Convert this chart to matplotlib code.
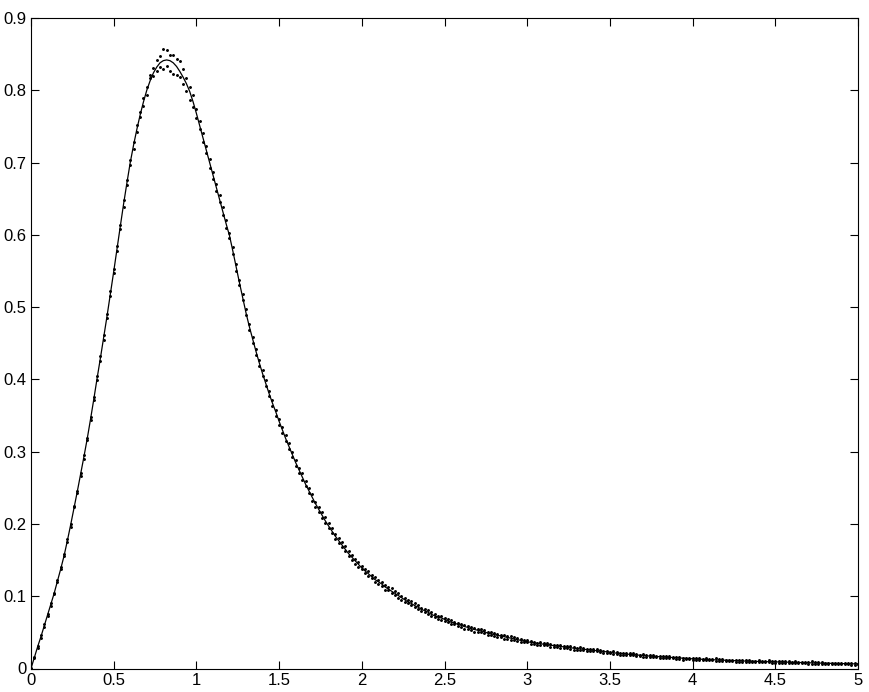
import numpy as np
import matplotlib
matplotlib.use("Agg")
import matplotlib.pyplot as plt

plt.rcParams['font.family'] = ['Liberation Sans', 'DejaVu Sans']

# Sample positions (step 0.02 from 0 to 5)
x_step = 0.02
n_pts = 251

# Fitted curve values at each sample position
curve_y = [
    0.000, 0.015, 0.030, 0.044, 0.059, 0.074, 0.089, 0.104, 0.121, 0.138,
    0.156, 0.177, 0.199, 0.222, 0.245, 0.269, 0.293, 0.318, 0.345, 0.373,
    0.402, 0.430, 0.459, 0.488, 0.518, 0.549, 0.581, 0.612, 0.643, 0.672,
    0.700, 0.724, 0.746, 0.766, 0.784, 0.800, 0.813, 0.824, 0.832, 0.838,
    0.841, 0.842, 0.841, 0.838, 0.833, 0.826, 0.818, 0.809, 0.798, 0.784,
    0.768, 0.751, 0.734, 0.717, 0.700, 0.683, 0.666, 0.649, 0.632, 0.615,
    0.599, 0.578, 0.556, 0.534, 0.513, 0.492, 0.473, 0.456, 0.439, 0.423,
    0.408, 0.394, 0.380, 0.367, 0.355, 0.342, 0.330, 0.318, 0.307, 0.296,
    0.285, 0.275, 0.265, 0.255, 0.246, 0.237, 0.228, 0.220, 0.212, 0.204,
    0.197, 0.190, 0.183, 0.177, 0.171, 0.165, 0.159, 0.154, 0.149, 0.144,
    0.139, 0.135, 0.131, 0.127, 0.123, 0.120, 0.117, 0.113, 0.110, 0.107,
    0.104, 0.101, 0.098, 0.095, 0.092, 0.090, 0.087, 0.085, 0.082, 0.080,
    0.078, 0.075, 0.073, 0.071, 0.070, 0.068, 0.066, 0.064, 0.063, 0.061,
    0.060, 0.058, 0.057, 0.055, 0.054, 0.053, 0.052, 0.051, 0.049, 0.048,
    0.047, 0.046, 0.045, 0.044, 0.043, 0.042, 0.041, 0.040, 0.039, 0.038,
    0.037, 0.0363, 0.0356, 0.0349, 0.0342, 0.0336, 0.0329, 0.0323, 0.0317, 0.0311,
    0.0305, 0.0299, 0.0293, 0.0288, 0.0282, 0.0277, 0.0271, 0.0266, 0.0261, 0.0256,
    0.0251, 0.0246, 0.0241, 0.0236, 0.0231, 0.0224, 0.0217, 0.0213, 0.0208, 0.0204,
    0.0200, 0.0195, 0.0191, 0.0187, 0.0183, 0.0179, 0.0176, 0.0172, 0.0169, 0.0166,
    0.0162, 0.0159, 0.0156, 0.0153, 0.0150, 0.0147, 0.0144, 0.0141, 0.0138, 0.0136,
    0.0133, 0.0131, 0.0129, 0.0127, 0.0125, 0.0123, 0.0121, 0.0119, 0.0117, 0.0115,
    0.0113, 0.0111, 0.0109, 0.0108, 0.0106, 0.0104, 0.0103, 0.0101, 0.0100, 0.0098,
    0.0097, 0.0096, 0.0095, 0.0094, 0.0093, 0.0092, 0.0091, 0.0089, 0.0088, 0.0087,
    0.0085, 0.0084, 0.0083, 0.0082, 0.0080, 0.0079, 0.0078, 0.0077, 0.0075, 0.0074,
    0.0073, 0.0072, 0.0071, 0.0070, 0.0069, 0.0068, 0.0067, 0.0066, 0.0065, 0.0064,
    0.0063,
]

# Scatter of measured points, first set: deviation from the curve (units of 0.001)
scatter_dev_a = [
    0, 1, -1, 2, -1, 1, -2, 1, 2, -1,
    2, -2, 1, 3, -2, 2, -3, 1, 3, -2,
    3, -4, 2, -3, 4, -2, 3, -4, 5, -3,
    4, -5, 6, -3, 5, -6, 4, 7, -5, 9,
    -12, 14, 8, -15, 10, -8, 12, -10, 6, -7,
    6, -5, 7, -4, 5, -6, 4, -3, 6, -5,
    4, -5, 3, -4, 5, -3, 4, -5, 3, -4,
    5, -3, 4, -4, 3, -5, 4, -3, 5, -4,
    3, -4, 5, -3, 4, -5, 3, -4, 4, -3,
    4, -3, 3, -4, 4, -3, 3, -4, 3, -3,
    3, -3, 4, -2, 3, -3, 2, -4, 3, -2,
    3, -3, 2, -3, 3, -2, 3, -3, 2, -2,
    3, -2, 2, -3, 2, -2, 3, -2, 2, -2,
    2, -3, 2, -2, 2, -2, 3, -2, 2, -2,
    2, -2, 2, -3, 2, -2, 2, -2, 2, -2,
    2, -2, 1, -2, 2, -1, 2, -2, 1, -2,
    2, -1, 2, -2, 1, -2, 2, -1, 1, -2,
    2, -1, 1, -2, 1, -1, 2, -1, 1, -2,
    1, -1, 2, -1, 1, -2, 1, -1, 2, -1,
    1, -1, 2, -1, 1, -1, 1, -2, 1, -1,
    1, -1, 1, -1, 2, -1, 1, -1, 1, -1,
    1, -1, 1, -2, 1, -1, 1, -1, 1, -1,
    2, -1, 1, -1, 1, -1, 1, -1, 2, -1,
    1, -1, 1, -1, 1, -1, 2, -1, 1, -1,
    1, -1, 1, -1, 1, -1, 1, -1, 1, -1, 0,
]

# Scatter of measured points, second set (units of 0.001)
scatter_dev_b = [
    1, -1, 1, -2, 2, -1, 1, -1, -2, 2,
    -1, 2, -3, 2, 1, -3, 2, -2, -1, 3,
    -3, 2, -4, 3, -2, 4, -3, 2, -4, 4,
    -3, 5, -4, 4, -6, 5, 8, -4, 10, -6,
    16, -8, -14, 11, -12, 15, -9, 8, -11, 9,
    -6, 7, -5, 6, -7, 4, -5, 6, -4, 5,
    -4, 5, -6, 4, -3, 5, -4, 3, -5, 4,
    -4, 5, -3, 4, -5, 3, -4, 5, -3, 4,
    -5, 3, -4, 4, -3, 5, -4, 3, -4, 5,
    -3, 4, -4, 3, -3, 4, -3, 3, -4, 3,
    -2, 3, -3, 2, -4, 3, -3, 2, -2, 4,
    -2, 3, -3, 2, -2, 3, -2, 3, -3, 2,
    -2, 3, -2, 2, -3, 2, -2, 3, -2, 2,
    -3, 2, -2, 2, -3, 2, -2, 2, -2, 3,
    -2, 2, -2, 2, -2, 3, -2, 2, -2, 2,
    -1, 2, -2, 1, -2, 2, -1, 2, -2, 1,
    -2, 1, -1, 2, -2, 1, -1, 2, -2, 1,
    -1, 2, -1, 1, -2, 1, -1, 1, -2, 1,
    -1, 2, -1, 1, -1, 2, -1, 1, -1, 1,
    -1, 1, -1, 2, -1, 1, -1, 1, -1, 1,
    -2, 1, -1, 1, -1, 1, -1, 2, -1, 1,
    -1, 1, -1, 1, -1, 2, -1, 1, -1, 1,
    -1, 1, -1, 2, -1, 1, -1, 1, -1, 1,
    -1, 2, -1, 1, -1, 1, -1, 1, -1, 2,
    -1, 1, -1, 1, -1, 1, -1, 1, -1, 1, 0,
]

x_ticks = [0, 0.5, 1, 1.5, 2, 2.5, 3, 3.5, 4, 4.5, 5]
x_tick_labels = ["0", "0.5", "1", "1.5", "2", "2.5", "3", "3.5", "4", "4.5", "5"]
y_ticks = [0, 0.1, 0.2, 0.3, 0.4, 0.5, 0.6, 0.7, 0.8, 0.9]
y_tick_labels = ["0", "0.1", "0.2", "0.3", "0.4", "0.5", "0.6", "0.7", "0.8", "0.9"]

x = np.arange(n_pts) * x_step
cy = np.array(curve_y)
sya = cy + np.array(scatter_dev_a) * 0.001
syb = cy + np.array(scatter_dev_b) * 0.001

fig = plt.figure(figsize=(8.7, 6.92), dpi=100)
ax = fig.add_axes([31 / 870, 1 - 668.5 / 692, 827 / 870, 650.5 / 692])

ax.plot(x, sya, linestyle='none', marker='.', markersize=2.2, color='black')
ax.plot(x, syb, linestyle='none', marker='.', markersize=2.2, color='black')
ax.plot(x, cy, color='black', linewidth=0.9)

ax.set_xlim(0, 5)
ax.set_ylim(0, 0.9)
ax.set_xticks(x_ticks)
ax.set_xticklabels(x_tick_labels)
ax.set_yticks(y_ticks)
ax.set_yticklabels(y_tick_labels)
ax.tick_params(direction='in', length=5.5, width=0.8, top=True, right=True,
               labelsize=12, pad=3, colors='black')
for s in ax.spines.values():
    s.set_linewidth(0.8)

fig.savefig("out.png", dpi=100)
